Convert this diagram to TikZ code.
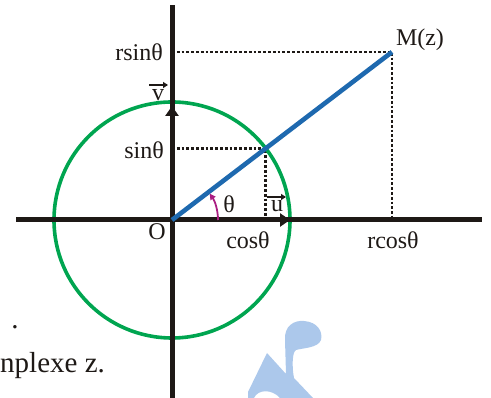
\documentclass[tikz,border=0pt]{standalone}
\usepackage{fontspec}
\setmainfont{Liberation Serif}
\usetikzlibrary{arrows.meta,calc}
\definecolor{axiscol}{RGB}{30,25,22}
\definecolor{circcol}{RGB}{0,165,80}
\definecolor{linecol}{RGB}{30,105,175}
\definecolor{arccol}{RGB}{170,30,130}
\definecolor{wmcol}{RGB}{172,200,235}
\tikzset{
  axisline/.style={draw=axiscol,line width=5pt},
  dotline/.style={draw=axiscol,line width=2.6pt,dash pattern=on 2.8pt off 2pt},
  lbl/.style={font=\fontsize{24}{26}\selectfont,text=axiscol,inner sep=0pt},
  bigtip/.style={-{Triangle[length=10pt,width=13pt]}},
  vecarrow/.style={draw=axiscol,line width=1.8pt,-{Triangle[length=5pt,width=6pt]}}
}
\begin{document}
\begin{tikzpicture}[x=1pt,y=1pt]
\useasboundingbox (0,0) rectangle (491,398);
% watermark
\fill[wmcol] (248,0) -- (248,6) -- (267,45) -- (286,24) -- (285,58)
  .. controls (284,72) and (294,78) .. (304,77)
  .. controls (318,76) and (323,66) .. (321,58)
  .. controls (318,50) and (303,50) .. (296,48)
  .. controls (292,46) and (292,30) .. (294,20) -- (313,0) -- (280,0)
  .. controls (272,9) and (258,9) .. (254,0) -- cycle;
% coordinates
\coordinate (O) at (172,178);
\coordinate (xl) at (16,178);
\coordinate (xr) at (482,178);
\coordinate (yb) at (172,0);
\coordinate (yt) at (172,393);
\coordinate (M) at (392,346);
\coordinate (P) at ($(O)+(37.36:118)$);
\coordinate (Mx) at (392,178);
\coordinate (My) at (172,346);
\coordinate (Px) at (P |- O);
\coordinate (Py) at (O |- P);
\coordinate (vt) at (172,292);
\coordinate (ut) at (290,178);
% dotted projections
\draw[dotline] (My) -- (M) -- (Mx);
\draw[dotline] (Py) -- (P) -- (Px);
% circle
\draw[circcol,line width=3.6pt] (O) circle[radius=118];
% axes
\draw[axisline] (xl) -- (xr);
\draw[axisline] (yb) -- (yt);
\draw[axisline,bigtip] (O) -- (vt);
\draw[axisline,bigtip] (O) -- (ut);
% radius line
\draw[linecol,line width=4.6pt] (O) -- (M);
% angle arc
\draw[arccol,line width=1.8pt,-{Triangle[length=6pt,width=6pt]}] ($(O)+(46,0)$) arc[start angle=0,end angle=35,radius=46];
% labels
\node[lbl,anchor=east] (rs) at (163,346) {rsinθ};
\node[lbl,anchor=east] (s) at (164,248) {sinθ};
\node[lbl] (Mz) at (420,358) {M(z)};
\node[lbl] (th) at (229,194) {θ};
\node[lbl] (u) at (277,192) {u};
\coordinate (ua) at (267,201);
\coordinate (ub) at (286,201);
\draw[vecarrow] (ua) -- (ub);
\node[lbl] (v) at (158,303) {v};
\coordinate (va) at (149,313);
\coordinate (vb) at (168,313);
\draw[vecarrow] (va) -- (vb);
\node[lbl] (o) at (157,166) {O};
\node[lbl] (c) at (248,158) {cosθ};
\node[lbl] (rc) at (393,158) {rcosθ};
\node[font=\fontsize{29}{30}\selectfont,text=axiscol,inner sep=0pt,anchor=base] (dot) at (15,69) {.};
\node[font=\fontsize{29}{30}\selectfont,text=axiscol,inner sep=0pt,anchor=base west] (cz) at (0,25) {nplexe z.};
\end{tikzpicture}
\end{document}
